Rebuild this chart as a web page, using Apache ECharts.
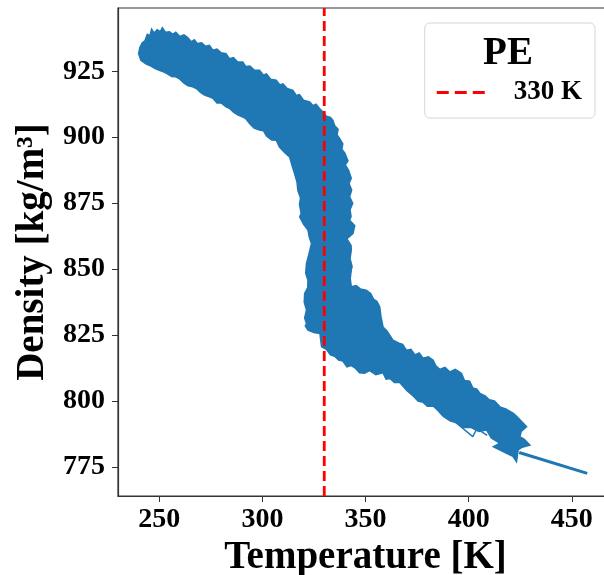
<!DOCTYPE html>
<html>
<head>
<meta charset="utf-8">
<script src="https://cdn.jsdelivr.net/npm/echarts@6/dist/echarts.min.js"></script>
<style>
  html, body { margin: 0; padding: 0; background: #fff; }
  #main { width: 604px; height: 575px; }
</style>
</head>
<body>
<div id="main"></div>
<script>
// outline of the blue band (temperature K, density kg/m3), in five runs
// 1: top edge of the solid branch, then right edge of the steep part
var edge1T = [240.0, 240.6, 241.8, 243.0, 244.2, 245.5, 246.3, 247.5, 249.0, 250.5,
  251.5, 253.0, 255.0, 256.5, 258.0, 260.0, 262.0, 263.8, 265.5, 267.0,
  268.5, 270.5, 272.5, 274.3, 276.0, 278.0, 280.0, 282.4, 284.0, 286.0,
  288.0, 290.5, 292.0, 294.0, 296.0, 298.6, 300.5, 302.0, 304.0, 306.7,
  308.5, 310.0, 312.0, 314.8, 316.5, 318.0, 320.0, 322.9, 324.5, 326.0,
  327.7, 329.5, 331.0, 333.0, 334.2, 335.0, 336.7, 336.2, 337.5, 339.0,
  338.5, 340.0, 341.5, 340.2, 341.8, 343.1, 342.0, 343.3, 342.3, 343.8,
  342.5, 343.0, 342.3, 344.8, 343.9, 341.0, 343.0, 343.1, 342.5, 343.5,
  343.1, 342.6, 343.1];
var edge1D = [931.7, 934.0, 935.8, 936.5, 939.0, 938.5, 941.0, 939.5, 940.8, 940.0,
  941.5, 939.8, 940.0, 939.0, 939.8, 938.2, 938.8, 937.8, 936.2, 937.0,
  935.5, 935.8, 934.5, 934.8, 933.0, 933.4, 932.0, 931.7, 929.8, 930.2,
  928.5, 928.5, 926.8, 927.0, 925.5, 925.4, 923.5, 924.0, 922.0, 921.6,
  919.8, 920.2, 918.5, 917.8, 915.8, 916.2, 914.0, 913.4, 912.0, 912.5,
  910.9, 909.5, 908.0, 907.5, 906.4, 904.5, 903.0, 901.0, 899.5, 897.5,
  895.5, 894.0, 891.0, 889.5, 887.5, 884.5, 882.5, 880.0, 877.4, 875.0,
  872.5, 870.0, 868.5, 866.5, 863.5, 861.5, 859.0, 857.2, 854.0, 851.0,
  849.6, 846.5, 843.3];
// 2: top edge of the melt branch down to its tip
var edge2T = [345.5, 347.5, 350.4, 352.5, 354.0, 355.5, 356.9, 357.5, 358.5, 360.5,
  363.3, 366.0, 368.0, 369.8, 372.0, 374.0, 376.0, 377.9, 380.5, 382.8,
  384.0, 386.0, 388.5, 391.0, 393.5, 396.5, 398.0, 400.5, 402.0, 404.0,
  405.5, 408.0, 410.0, 412.5, 415.2, 418.0, 421.7, 423.5, 425.0, 428.1,
  425.5, 424.9, 427.0, 429.7, 426.0, 424.0];
var edge2D = [843.8, 842.5, 842.0, 840.8, 838.5, 837.8, 835.7, 832.0, 828.1, 826.5,
  823.1, 822.0, 821.5, 819.3, 819.6, 817.5, 818.2, 816.2, 816.8, 815.5,
  813.5, 812.0, 812.8, 811.0, 812.0, 810.5, 807.8, 807.5, 805.0, 804.5,
  802.9, 802.0, 800.5, 800.0, 797.8, 797.0, 795.3, 794.0, 792.8, 790.3,
  788.5, 786.5, 785.5, 783.3, 782.5, 781.5];
// 3: bottom edge of the melt branch, back towards 330 K
var edge3T = [423.2, 421.5, 418.4, 412.0, 415.2, 411.0, 408.7, 405.0, 401.0, 397.5,
  394.1, 391.0, 387.6, 385.0, 382.8, 380.0, 378.0, 375.5, 373.1, 370.0,
  366.6, 364.0, 362.0, 360.0, 358.5, 355.0, 352.0, 349.5, 347.1, 345.0,
  343.0, 341.0, 339.0, 337.0, 335.0, 333.0, 331.0, 328.7, 328.3, 327.9,
  325.0, 322.1];
var edge3D = [777.0, 779.0, 780.2, 782.7, 784.0, 786.0, 789.0, 788.5, 790.0, 790.0,
  791.8, 792.5, 794.3, 796.5, 798.1, 798.0, 799.5, 800.0, 801.9, 804.0,
  807.0, 807.0, 808.5, 808.3, 810.7, 810.0, 811.5, 810.5, 810.7, 812.5,
  813.5, 813.0, 815.2, 815.5, 817.0, 817.5, 819.6, 820.6, 823.0, 825.6,
  826.0, 826.9];
// 4: left edge of the steep part, going up
var edge4T = [320.8, 321.4, 320.5, 321.4, 320.3, 320.5, 322.0, 322.1, 321.0, 321.4,
  322.5, 323.8, 322.8, 322.1, 320.0, 318.1, 318.8, 318.0, 318.5, 317.2,
  316.8, 315.6, 314.5, 313.2, 311.0, 308.3];
var edge4D = [828.5, 829.4, 831.5, 834.5, 837.5, 840.8, 843.0, 845.8, 848.5, 852.2,
  855.5, 859.7, 862.0, 864.8, 867.0, 869.8, 871.1, 874.5, 877.0, 879.9,
  883.0, 886.2, 889.0, 892.5, 894.0, 896.3];
// 5: bottom edge of the solid branch, back to the start
var edge5T = [306.7, 304.5, 302.0, 300.5, 298.6, 296.0, 294.0, 292.0, 290.5, 288.0,
  286.0, 284.0, 282.4, 280.0, 278.0, 276.0, 274.3, 272.0, 270.0, 268.0,
  266.2, 264.0, 262.0, 260.0, 258.1, 256.0, 254.0, 252.0, 250.0, 248.0,
  246.0, 243.5, 241.1];
var edge5D = [898.9, 899.0, 900.5, 902.5, 902.7, 903.5, 905.0, 907.0, 907.7, 908.5,
  909.5, 911.0, 911.5, 913.0, 913.0, 914.8, 915.3, 916.0, 917.0, 918.5,
  919.1, 919.5, 920.5, 922.0, 922.9, 923.0, 924.0, 924.8, 925.4, 926.0,
  927.0, 927.8, 929.2];

// loose strokes outside the band and the last run-away segment
var strayT = [392.0, 402.0, 404.0, 409.0];
var strayD = [793.0, 786.5, 789.5, 787.0];
var tailT = [424.5, 457.5];
var tailD = [780.5, 772.6];

var meltT = 330;
var xTicks = [250, 300, 350, 400, 450];
var yTicks = [775, 800, 825, 850, 875, 900, 925];
var xMin = 230, xMax = 470, yMin = 764, yMax = 949;

var FONT = 'Liberation Serif';
var BLUE = '#1f77b4';

function pairs(a, b) {
  return a.map(function (v, i) { return [v, b[i]]; });
}

var band = [].concat(pairs(edge1T, edge1D), pairs(edge2T, edge2D), pairs(edge3T, edge3D),
  pairs(edge4T, edge4D), pairs(edge5T, edge5D));

var chart = echarts.init(document.getElementById('main'));

var option = {
  animation: false,
  backgroundColor: '#fff',
  grid: {
    left: 118, top: 8, right: -9, bottom: 79,
    outerBoundsMode: 'none', containLabel: false,
    show: true, borderColor: '#333', borderWidth: 1.2, backgroundColor: 'transparent'
  },
  xAxis: {
    type: 'value', min: xMin, max: xMax,
    name: 'Temperature [K]', nameLocation: 'middle', nameGap: 40,
    nameTextStyle: { fontFamily: FONT, fontWeight: 'bold', fontSize: 39, color: '#000' },
    axisLine: { show: true, lineStyle: { color: '#333', width: 1.2 } },
    axisTick: { show: true, length: 6, lineStyle: { color: '#333' }, customValues: xTicks },
    axisLabel: { fontFamily: FONT, fontWeight: 'bold', fontSize: 28, color: '#000', margin: 10, customValues: xTicks },
    splitLine: { show: false }
  },
  yAxis: {
    type: 'value', min: yMin, max: yMax,
    name: 'Density [kg/m³]', nameLocation: 'middle', nameGap: 64, nameRotate: 90,
    nameTextStyle: { fontFamily: FONT, fontWeight: 'bold', fontSize: 39, color: '#000' },
    axisLine: { show: true, lineStyle: { color: '#333', width: 1.2 } },
    axisTick: { show: true, length: 6, lineStyle: { color: '#333' }, customValues: yTicks },
    axisLabel: { fontFamily: FONT, fontWeight: 'bold', fontSize: 28, color: '#000', margin: 13, customValues: yTicks },
    splitLine: { show: false }
  },
  legend: {
    data: [{ name: '330 K', icon: 'path://M0,0h12v3h-12zM18,0h12v3h-12zM36,0h12v3h-12z' }],
    right: 9, top: 23,
    padding: [56, 13, 12, 12],
    itemWidth: 48, itemHeight: 3,
    backgroundColor: 'rgba(255,255,255,0.8)',
    borderColor: '#d6d6d6', borderWidth: 1, borderRadius: 5,
    textStyle: { fontFamily: FONT, fontWeight: 'bold', fontSize: 27, color: '#000', padding: [0, 0, 0, 24] }
  },
  graphic: [{
    type: 'text', x: 508, y: 54, z: 100,
    style: { text: 'PE', font: 'bold 39px "Liberation Serif"', fill: '#000', textAlign: 'center', textVerticalAlign: 'middle' }
  }],
  series: [
    {
      type: 'custom',
      name: 'PE',
      data: band,
      encode: { x: 0, y: 1 },
      renderItem: function (params, api) {
        if (params.dataIndex !== 0) return;
        var pts = band.map(function (p) { return api.coord(p); });
        return {
          type: 'polygon',
          shape: { points: pts },
          style: { fill: BLUE, stroke: BLUE, lineWidth: 1.5, lineJoin: 'miter' }
        };
      },
      z: 2
    },
    {
      type: 'line', name: 'stray', data: pairs(strayT, strayD),
      symbol: 'none', lineStyle: { color: BLUE, width: 1.5 }, z: 2
    },
    {
      type: 'line', name: 'tail', data: pairs(tailT, tailD),
      symbol: 'none', lineStyle: { color: BLUE, width: 3 }, z: 2
    },
    {
      type: 'line', name: '330 K', data: [[meltT, yMin], [meltT, yMax]],
      symbol: 'none', color: '#ff0000',
      lineStyle: { color: '#ff0000', width: 2.8, type: [10, 5] }, z: 3
    }
  ]
};

chart.setOption(option);
</script>
</body>
</html>
